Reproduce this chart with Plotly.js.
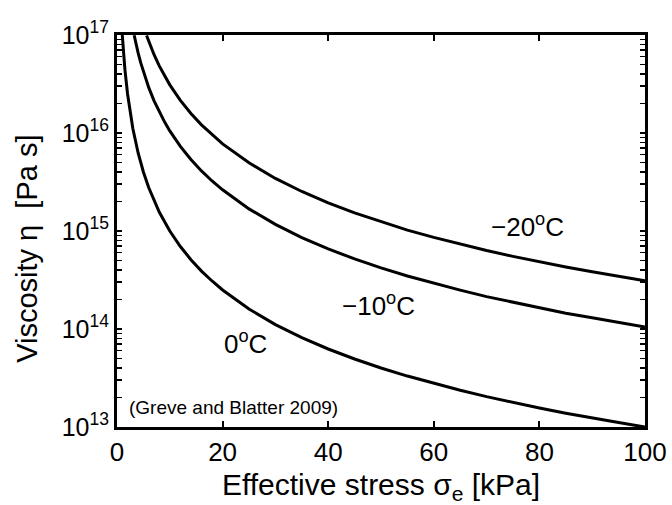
<!DOCTYPE html>
<html>
<head>
<meta charset="utf-8">
<script src="https://cdn.plot.ly/plotly-3.0.1.min.js"></script>
<style>html,body{margin:0;padding:0;background:#fff}#chart{width:672px;height:505px}</style>
</head>
<body>
<div id="chart"></div>
<script>
// Data
const x0C  = [1, 1.25, 1.5, 2, 2.5, 3, 4, 5, 6, 7, 8, 10, 12, 14, 16, 18, 20, 25, 30, 35, 40, 45, 50, 55, 60, 65, 70, 75, 80, 85, 90, 95, 100];
const eta0C = [1e17, 6.4e16, 4.44e16, 2.5e16, 1.6e16, 1.11e16, 6.25e15, 4e15, 2.78e15, 2.04e15, 1.56e15, 1e15, 6.94e14, 5.1e14, 3.9e14, 3.09e14, 2.5e14, 1.6e14, 1.11e14, 8.16e13, 6.25e13, 4.94e13, 4e13, 3.31e13, 2.78e13, 2.37e13, 2.04e13, 1.78e13, 1.56e13, 1.38e13, 1.23e13, 1.11e13, 1e13];

const x10C  = [3.25, 3.5, 4, 4.5, 5, 6, 7, 8, 9, 10, 12, 14, 16, 18, 20, 25, 30, 35, 40, 45, 50, 55, 60, 65, 70, 75, 80, 85, 90, 95, 100];
const eta10C = [9.94e16, 8.57e16, 6.56e16, 5.19e16, 4.2e16, 2.92e16, 2.14e16, 1.64e16, 1.3e16, 1.05e16, 7.29e15, 5.36e15, 4.1e15, 3.24e15, 2.63e15, 1.68e15, 1.17e15, 8.57e14, 6.56e14, 5.19e14, 4.2e14, 3.47e14, 2.92e14, 2.49e14, 2.14e14, 1.87e14, 1.64e14, 1.45e14, 1.3e14, 1.16e14, 1.05e14];

const x20C  = [5.6, 6, 7, 8, 9, 10, 12, 14, 16, 18, 20, 25, 30, 35, 40, 45, 50, 55, 60, 65, 70, 75, 80, 85, 90, 95, 100];
const eta20C = [9.89e16, 8.61e16, 6.33e16, 4.84e16, 3.83e16, 3.1e16, 2.15e16, 1.58e16, 1.21e16, 9.57e15, 7.75e15, 4.96e15, 3.44e15, 2.53e15, 1.94e15, 1.53e15, 1.24e15, 1.02e15, 8.61e14, 7.34e14, 6.33e14, 5.51e14, 4.84e14, 4.29e14, 3.83e14, 3.43e14, 3.1e14];

const xTickVals = [0, 20, 40, 60, 80, 100];
const yMajorTickVals = [1e13, 1e14, 1e15, 1e16, 1e17];
const yMajorTickText = ["10<sup>13</sup>", "10<sup>14</sup>", "10<sup>15</sup>", "10<sup>16</sup>", "10<sup>17</sup>"];
const yMinorMultipliers = [2, 3, 4, 5, 6, 7, 8, 9];
const curveLabels = ["0<sup>o</sup>C", "\u221210<sup>o</sup>C", "\u221220<sup>o</sup>C"];
const sourceText = "(Greve and Blatter 2009)";
const xTitle = "Effective stress \u03c3<sub>e</sub> [kPa]";
const yTitle = "Viscosity \u03b7\u00a0\u00a0[Pa s]";

// build combined tick list (decades labelled, minor ticks unlabelled)
const yTickVals = [], yTickText = [];
yMajorTickVals.forEach((v, i) => {
  yTickVals.push(v); yTickText.push(yMajorTickText[i]);
  if (i < yMajorTickVals.length - 1) {
    yMinorMultipliers.forEach(m => { yTickVals.push(v * m); yTickText.push(''); });
  }
});

const FONT = '"Liberation Sans", Arial, Helvetica, sans-serif';
const lineStyle = {color: '#000', width: 3, shape: 'linear'};

const traces = [
  {x: x0C, y: eta0C, mode: 'lines', line: lineStyle, name: '0C', hoverinfo: 'skip'},
  {x: x10C, y: eta10C, mode: 'lines', line: lineStyle, name: '-10C', hoverinfo: 'skip'},
  {x: x20C, y: eta20C, mode: 'lines', line: lineStyle, name: '-20C', hoverinfo: 'skip'}
];

const layout = {
  width: 672, height: 505,
  margin: {l: 117, r: 27, t: 35, b: 78},
  paper_bgcolor: '#fff', plot_bgcolor: '#fff',
  showlegend: false,
  font: {family: FONT, color: '#000'},
  xaxis: {
    range: [0, 100], tickvals: xTickVals, ticktext: xTickVals.map(String),
    ticks: 'inside', ticklen: 6, tickwidth: 2, tickcolor: '#000',
    showline: true, linewidth: 3, linecolor: '#000', mirror: 'allticks',
    showgrid: false, zeroline: false,
    tickfont: {size: 26, family: FONT, color: '#000'},
    title: {text: xTitle, font: {size: 30, family: FONT, color: '#000'}, standoff: 8},
    automargin: false
  },
  yaxis: {
    type: 'log', range: [13, 17], tickvals: yTickVals, ticktext: yTickText,
    ticks: 'inside', ticklen: 5, tickwidth: 1.5, tickcolor: '#000',
    showline: true, linewidth: 3, linecolor: '#000', mirror: 'allticks',
    showgrid: false, zeroline: false,
    tickfont: {size: 25, family: FONT, color: '#000'},
    automargin: false
  },
  annotations: [
    {x: 24.3, y: 13.86, text: curveLabels[0], showarrow: false, font: {size: 26, family: FONT, color: '#000'}, xanchor: 'center', yanchor: 'middle'},
    {x: 49.6, y: 14.25, text: curveLabels[1], showarrow: false, font: {size: 26, family: FONT, color: '#000'}, xanchor: 'center', yanchor: 'middle'},
    {x: 77.7, y: 15.06, text: curveLabels[2], showarrow: false, font: {size: 26, family: FONT, color: '#000'}, xanchor: 'center', yanchor: 'middle'},
    {x: 1.9, y: 13.2, text: sourceText, showarrow: false, font: {size: 19, family: FONT, color: '#000'}, xanchor: 'left', yanchor: 'middle'},
    {xref: 'paper', yref: 'paper', x: -0.172, y: 0.455, text: yTitle, textangle: -90, showarrow: false,
     font: {size: 29, family: FONT, color: '#000'}, xanchor: 'center', yanchor: 'middle'}
  ]
};

Plotly.newPlot('chart', traces, layout, {staticPlot: true, displayModeBar: false});
</script>
</body>
</html>
